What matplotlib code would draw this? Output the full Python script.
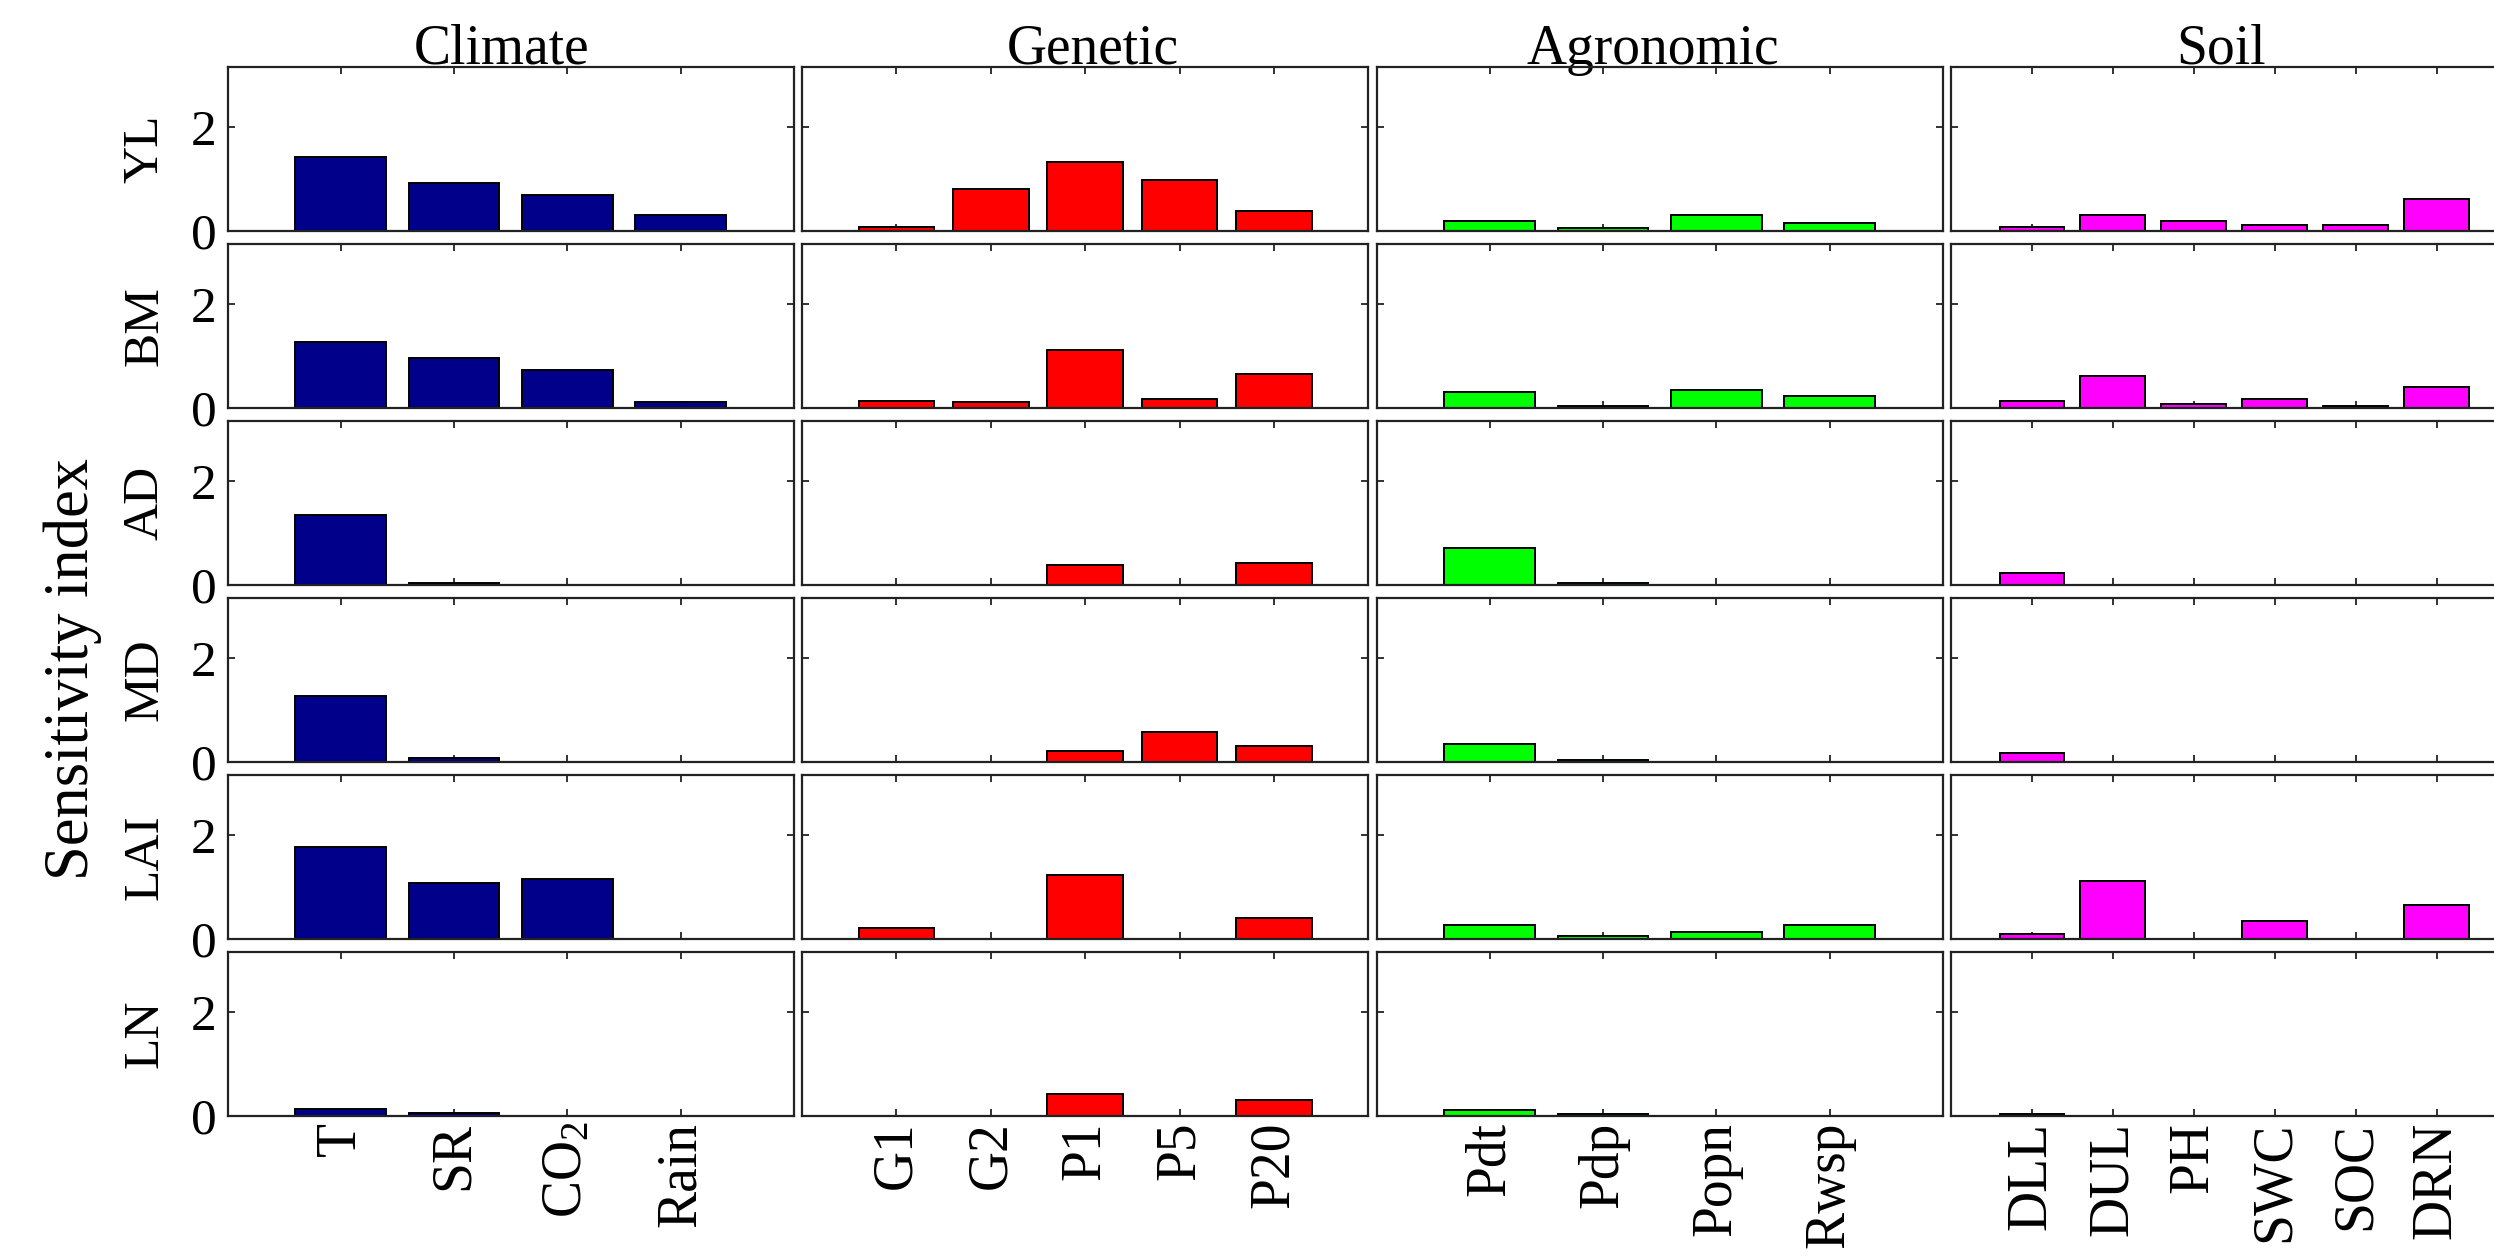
import matplotlib
matplotlib.use('Agg')
import matplotlib.pyplot as plt
import numpy as np

plt.rcParams['font.family'] = ['Liberation Serif', 'DejaVu Serif']
plt.rcParams['mathtext.fontset'] = 'custom'
plt.rcParams['mathtext.rm'] = 'Liberation Serif'
plt.rcParams['mathtext.it'] = 'Liberation Serif:italic'

# ---------------- data ----------------
groups = ['Climate', 'Genetic', 'Agronomic', 'Soil']
outputs = ['YL', 'BM', 'AD', 'MD', 'LAI', 'LN']

climate_params = ['T', 'SR', r'CO$_2$', 'Rain']
genetic_params = ['G1', 'G2', 'P1', 'P5', 'P20']
agronomic_params = ['Pdt', 'Pdp', 'Popn', 'Rwsp']
soil_params = ['DLL', 'DUL', 'PH', 'SWC', 'SOC', 'DRN']

# rows: YL, BM, AD, MD, LAI, LN
climate_vals = [
    [1.43, 0.93, 0.70, 0.31],
    [1.27, 0.96, 0.73, 0.11],
    [1.35, 0.04, 0.00, 0.00],
    [1.26, 0.08, 0.00, 0.00],
    [1.77, 1.08, 1.16, 0.00],
    [0.13, 0.05, 0.00, 0.00],
]
genetic_vals = [
    [0.08, 0.81, 1.32, 0.97, 0.38],
    [0.14, 0.11, 1.11, 0.18, 0.66],
    [0.00, 0.00, 0.38, 0.00, 0.43],
    [0.00, 0.00, 0.22, 0.57, 0.30],
    [0.22, 0.00, 1.23, 0.00, 0.41],
    [0.00, 0.00, 0.42, 0.00, 0.31],
]
agronomic_vals = [
    [0.20, 0.05, 0.30, 0.15],
    [0.30, 0.04, 0.34, 0.23],
    [0.72, 0.04, 0.00, 0.00],
    [0.34, 0.03, 0.00, 0.00],
    [0.27, 0.06, 0.14, 0.27],
    [0.12, 0.04, 0.00, 0.00],
]
soil_vals = [
    [0.08, 0.30, 0.19, 0.11, 0.11, 0.62],
    [0.14, 0.61, 0.07, 0.18, 0.03, 0.41],
    [0.23, 0.00, 0.00, 0.00, 0.00, 0.00],
    [0.18, 0.00, 0.00, 0.00, 0.00, 0.00],
    [0.10, 1.11, 0.00, 0.34, 0.00, 0.65],
    [0.03, 0.00, 0.00, 0.00, 0.00, 0.00],
]

group_params = [climate_params, genetic_params, agronomic_params, soil_params]
group_vals = [climate_vals, genetic_vals, agronomic_vals, soil_vals]
group_colors = ['#00008B', '#FF0000', '#00FF00', '#FF00FF']
yticks = [0, 2]

# ---------------- layout ----------------
W, H = 2494, 1256
fig = plt.figure(figsize=(W / 100, H / 100), dpi=100)
fig.patch.set_facecolor('white')

left0, col_w, col_pitch = 227.5, 566.5, 574.5
top0, row_h, row_pitch = 67.0, 164.0, 177.0
title_x = [0.4845, 0.514, 0.4885, 0.4766]

for c in range(4):
    params = group_params[c]
    n = len(params)
    xpos = np.arange(1, n + 1)
    for r in range(6):
        lx = left0 + c * col_pitch
        ty = top0 + r * row_pitch
        ax = fig.add_axes([lx / W, 1 - (ty + row_h) / H, col_w / W, row_h / H])
        ax.bar(xpos, group_vals[c][r], width=0.8, color=group_colors[c],
               edgecolor='black', linewidth=1.4, zorder=2)
        ax.set_xlim(0, n + 1)
        ax.set_ylim(0, 3.15)
        ax.set_yticks(yticks)
        ax.set_xticks(xpos)
        for s in ax.spines.values():
            s.set_linewidth(1.6)
            s.set_color('#222222')
            s.set_zorder(3)
        ax.tick_params(direction='in', top=True, right=True, length=5,
                       width=1.3, color='#222222')
        ax.tick_params(axis='y', labelsize=37, pad=8)
        ax.tick_params(axis='x', labelsize=40, pad=4)
        if c == 0:
            ax.set_yticklabels([str(v) for v in yticks])
            fig.text(145 / W, 1 - (ty + row_h / 2) / H, outputs[r],
                     rotation=90, ha='center', va='center', fontsize=37)
        else:
            ax.set_yticklabels([])
        if r == 5:
            ax.set_xticklabels(params, rotation=90)
        else:
            ax.set_xticklabels([])
        if r == 0:
            ax.text(title_x[c], 1.0 + 3.5 / row_h, groups[c],
                    transform=ax.transAxes, ha='center', va='baseline',
                    fontsize=40)

fig.text(73 / W, 1 - 669 / H, 'Sensitivity index', rotation=90,
         ha='center', va='center', fontsize=45)

fig.savefig('out.png', dpi=100, facecolor='white')
